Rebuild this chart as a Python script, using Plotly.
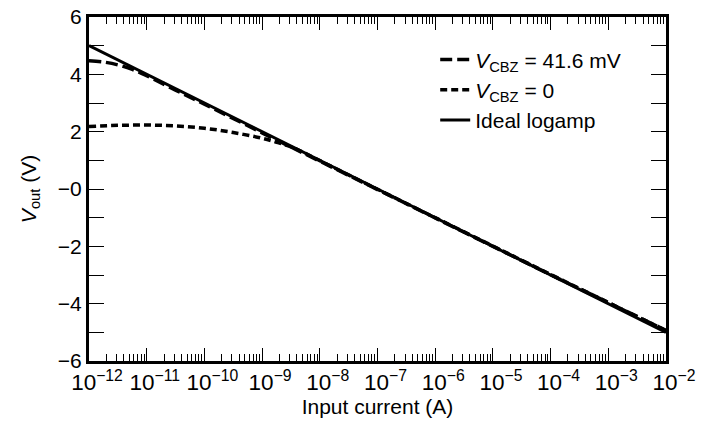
import plotly.graph_objects as go

# Data (log10 of input current in A, output voltage in V)
logI_ideal = [-12, -2]
v_ideal = [5.0, -5.0]

logI_cbz416 = [-12, -11.75, -11.5, -11.25, -11, -10.5, -10, -9, -8, -7, -6, -5, -4, -3, -2]
v_cbz416 = [4.47, 4.43, 4.33, 4.17, 3.95, 3.45, 2.96, 1.96, 0.97, -0.02, -1.01, -2.0, -2.99, -3.96, -4.93]

logI_cbz0 = [-12, -11.5, -11, -10.5, -10, -9.5, -9, -8.75, -8.5, -8.25, -8, -7, -6, -5, -4, -3, -2]
v_cbz0 = [2.18, 2.22, 2.23, 2.2, 2.12, 1.97, 1.77, 1.63, 1.47, 1.24, 0.99, -0.01, -1.0, -1.99, -2.98, -3.96, -4.94]

y_tickvals = [6, 4, 2, 0, -2, -4, -6]
y_ticktext = ["6", "4", "2", "\u22120", "\u22122", "\u22124", "\u22126"]

legend_names = [
    "<i>V</i><sub>CBZ</sub> = 41.6 mV",
    "<i>V</i><sub>CBZ</sub> = 0",
    "Ideal logamp",
]

FONT = "Liberation Sans, Arial, sans-serif"
FS = 21

fig = go.Figure()
fig.add_trace(go.Scatter(
    x=[10 ** v for v in logI_cbz416], y=v_cbz416, mode="lines", name=legend_names[0],
    line=dict(color="black", width=3.5, dash="12px,5px"), line_shape="spline"))
fig.add_trace(go.Scatter(
    x=[10 ** v for v in logI_cbz0], y=v_cbz0, mode="lines", name=legend_names[1],
    line=dict(color="black", width=3.5, dash="7px,4px"), line_shape="spline"))
fig.add_trace(go.Scatter(
    x=[10 ** v for v in logI_ideal], y=v_ideal, mode="lines", name=legend_names[2],
    line=dict(color="black", width=3)))

fig.update_layout(
    width=705, height=423,
    margin=dict(l=89, r=39, t=17, b=62),
    paper_bgcolor="white", plot_bgcolor="white",
    font=dict(family=FONT, size=FS, color="black"),
    showlegend=True,
    legend=dict(x=0.6, y=0.935, xanchor="left", yanchor="top",
                bgcolor="rgba(0,0,0,0)", font=dict(size=FS, family=FONT),
                itemwidth=30, tracegroupgap=0),
    xaxis=dict(
        type="log", range=[-12, -2], dtick=1, exponentformat="power",
        showline=True, linecolor="black", linewidth=3, mirror="allticks",
        ticks="inside", ticklen=13, tickwidth=1.3, tickcolor="black",
        showgrid=False, zeroline=False, automargin=False, tickangle=0,
        tickfont=dict(size=18, family=FONT), ticklabelshift=8,
        minor=dict(ticks="inside", ticklen=7, tickwidth=1.3, tickcolor="black", showgrid=False),
        title=dict(text="Input current (A)", font=dict(size=FS, family=FONT), standoff=0),
    ),
    yaxis=dict(
        range=[-6, 6], tickvals=y_tickvals, ticktext=y_ticktext,
        showline=True, linecolor="black", linewidth=3, mirror="allticks",
        ticks="inside", ticklen=15, tickwidth=1.3, tickcolor="black",
        showgrid=False, zeroline=False, automargin=False,
        tickfont=dict(size=FS, family=FONT),
        minor=dict(dtick=1, ticks="inside", ticklen=15, tickwidth=1.3, tickcolor="black", showgrid=False),
        title=dict(text="<i>V</i><sub>out</sub> (V)", font=dict(size=FS, family=FONT), standoff=16),
    ),
)

fig.write_html("out.html")
